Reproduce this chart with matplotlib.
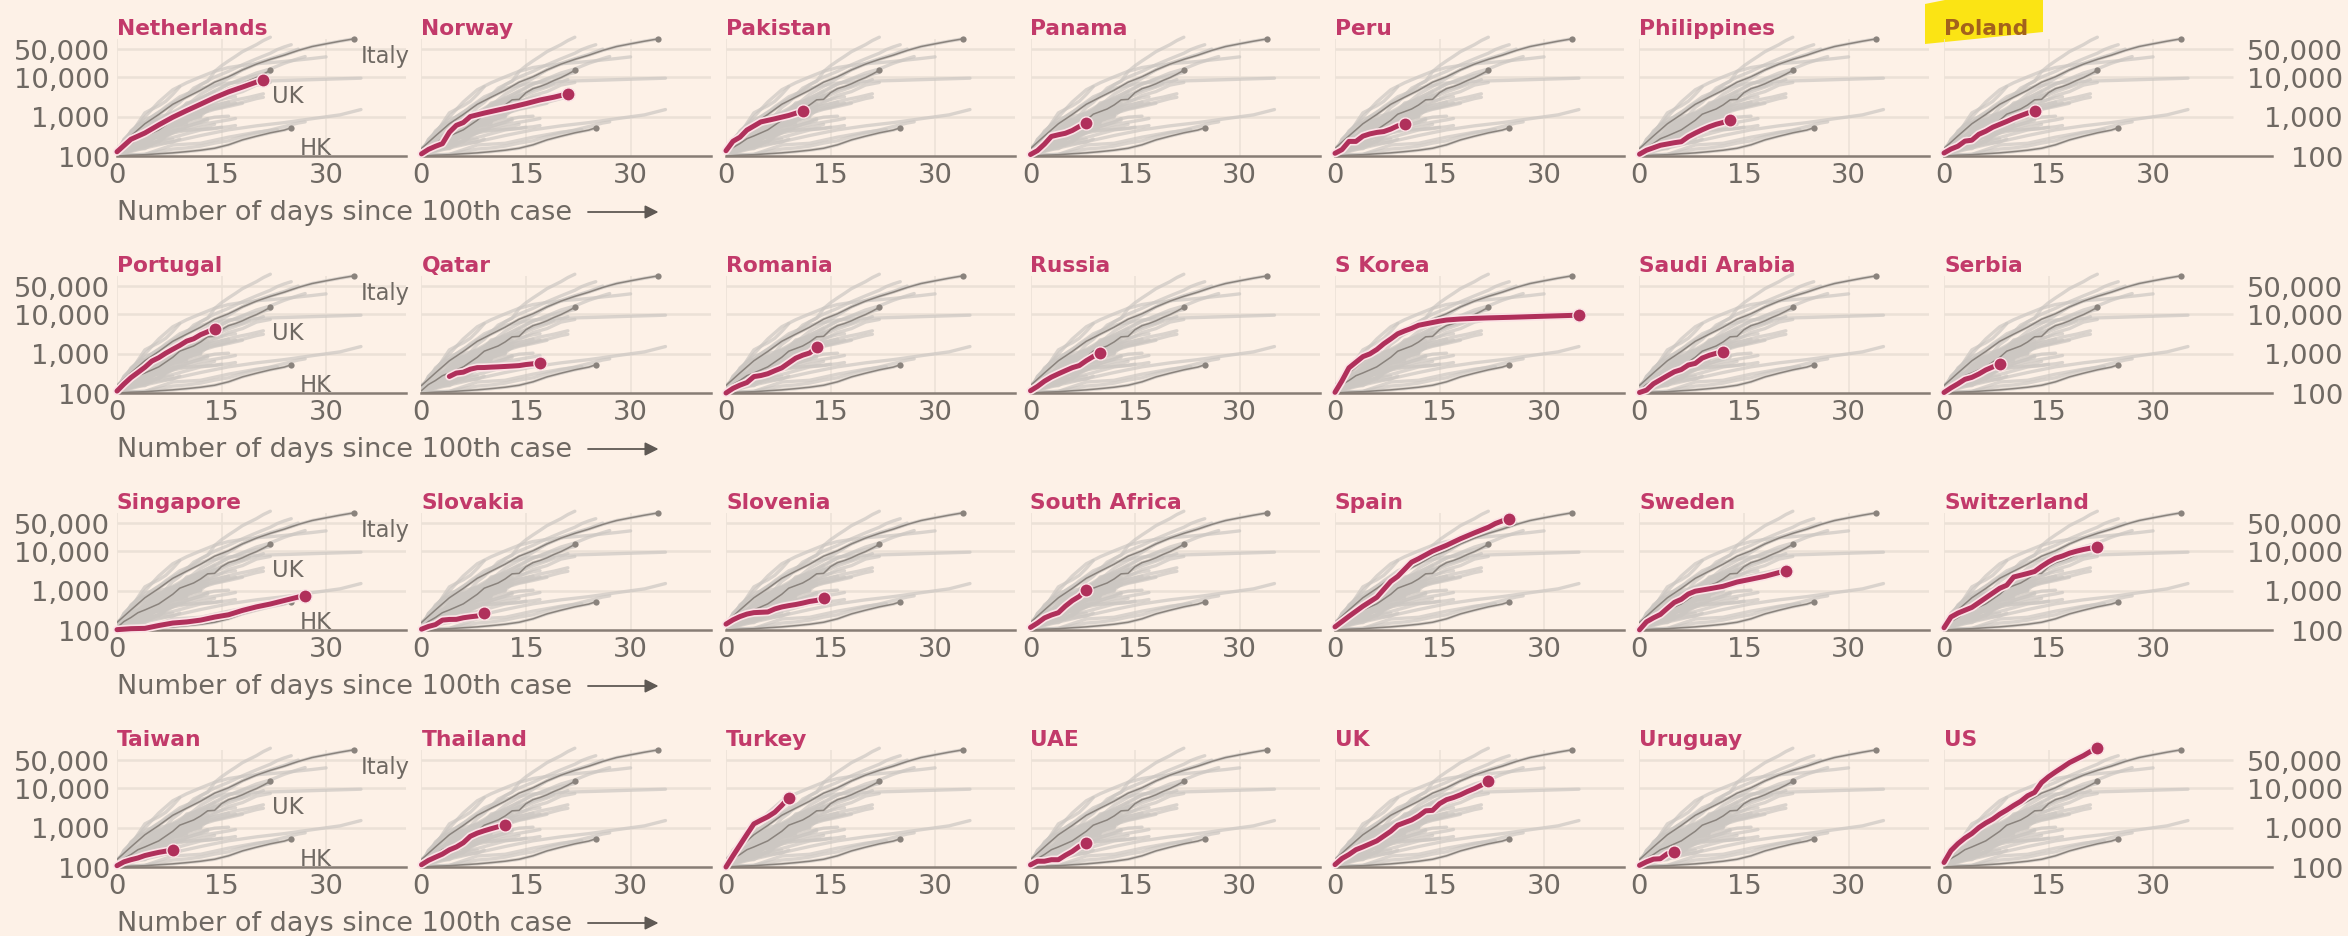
"""Small multiples: confirmed cases by days since the 100th case, log scale."""

import matplotlib.pyplot as plt
import matplotlib.patheffects as pe
from matplotlib.patches import Polygon

# ---------------------------------------------------------------- data
PANELS = [
    "Netherlands", "Norway", "Pakistan", "Panama", "Peru", "Philippines", "Poland",
    "Portugal", "Qatar", "Romania", "Russia", "S Korea", "Saudi Arabia", "Serbia",
    "Singapore", "Slovakia", "Slovenia", "South Africa", "Spain", "Sweden", "Switzerland",
    "Taiwan", "Thailand", "Turkey", "UAE", "UK", "Uruguay", "US",
]

# (days since 100th case, cumulative cases) for each highlighted country
PANEL_CASES = {
    "Netherlands": ([0, 2, 4, 6, 8, 10, 12, 14, 16, 18, 20, 21],
                    [128, 265, 382, 614, 959, 1413, 2051, 2994, 4204, 5560, 7431, 8603]),
    "Norway": ([0, 1, 2, 3, 4, 5, 6, 7, 9, 11, 13, 15, 17, 19, 21],
               [113, 147, 176, 205, 400, 598, 702, 996, 1221, 1463, 1746, 2118, 2621, 3084, 3755]),
    "Pakistan": ([0, 1, 2, 3, 5, 7, 9, 11],
                 [136, 236, 299, 454, 730, 875, 1063, 1373]),
    "Panama": ([0, 1, 2, 3, 4, 5, 6, 7, 8],
               [109, 137, 200, 313, 345, 376, 443, 558, 674]),
    "Peru": ([0, 1, 2, 3, 4, 5, 6, 7, 8, 9, 10],
             [117, 145, 234, 234, 318, 363, 395, 416, 480, 580, 635]),
    "Philippines": ([0, 1, 3, 5, 6, 7, 8, 9, 10, 11, 12, 13],
                    [111, 140, 187, 217, 230, 307, 380, 462, 552, 636, 707, 803]),
    "Poland": ([0, 1, 2, 3, 4, 5, 6, 7, 8, 9, 10, 11, 12, 13],
               [119, 150, 177, 238, 251, 355, 425, 536, 634, 749, 901, 1051, 1221, 1389]),
    "Portugal": ([0, 1, 2, 3, 4, 5, 6, 7, 8, 9, 10, 11, 12, 13, 14],
                 [112, 169, 245, 331, 448, 642, 785, 1020, 1280, 1600, 2060, 2362, 2995, 3544, 4268]),
    "Qatar": ([4, 5, 6, 7, 8, 9, 10, 11, 12, 13, 14, 15, 16, 17],
              [262, 320, 337, 401, 439, 442, 452, 460, 470, 481, 494, 526, 549, 590]),
    "Romania": ([0, 1, 2, 3, 4, 5, 6, 7, 8, 9, 10, 11, 12, 13],
                [100, 131, 158, 184, 260, 277, 308, 367, 433, 576, 762, 906, 1029, 1452]),
    "Russia": ([0, 1, 2, 3, 4, 5, 6, 7, 8, 9, 10],
               [114, 147, 199, 253, 306, 367, 438, 495, 658, 840, 1036]),
    "S Korea": ([0, 1, 2, 3, 4, 5, 6, 7, 8, 9, 10, 11, 12, 13, 14, 15, 16, 18, 20, 22, 25, 28, 31, 35],
                [104, 204, 433, 602, 833, 977, 1261, 1766, 2337, 3150, 3736, 4335, 5186, 5621,
                 6088, 6593, 7041, 7478, 7755, 7979, 8236, 8565, 8897, 9332]),
    "Saudi Arabia": ([0, 1, 2, 4, 5, 6, 7, 8, 9, 10, 11, 12],
                     [103, 118, 171, 274, 344, 392, 511, 562, 767, 900, 1012, 1104]),
    "Serbia": ([0, 1, 2, 3, 4, 5, 6, 7, 8],
               [103, 135, 171, 222, 249, 303, 384, 457, 528]),
    "Singapore": ([0, 2, 4, 6, 8, 10, 12, 14, 16, 18, 20, 22, 24, 26, 27],
                  [102, 108, 110, 130, 150, 160, 178, 212, 243, 313, 385, 455, 558, 683, 732]),
    "Slovakia": ([0, 1, 2, 3, 4, 5, 6, 7, 8, 9],
                 [105, 123, 137, 178, 185, 186, 204, 216, 226, 269]),
    "Slovenia": ([0, 1, 2, 3, 4, 6, 7, 8, 9, 10, 11, 12, 13, 14],
                 [141, 181, 219, 253, 275, 286, 341, 383, 414, 442, 480, 528, 562, 632]),
    "South Africa": ([0, 1, 2, 3, 4, 5, 6, 7, 8],
                     [116, 150, 202, 240, 274, 402, 554, 709, 1050]),
    "Spain": ([0, 2, 4, 6, 8, 9, 11, 12, 14, 16, 18, 20, 22, 23, 24, 25],
              [120, 222, 400, 673, 1695, 2277, 5232, 6391, 9942, 13910, 20410, 28768,
               39885, 49515, 57786, 65719]),
    "Sweden": ([0, 1, 2, 3, 4, 5, 6, 7, 8, 10, 12, 14, 16, 18, 20, 21],
               [101, 161, 203, 248, 355, 500, 599, 814, 961, 1103, 1279, 1639, 1934, 2286, 2840, 3069]),
    "Switzerland": ([0, 1, 2, 4, 6, 8, 9, 10, 12, 13, 14, 15, 16, 17, 18, 19, 20, 21, 22],
                    [114, 214, 268, 374, 652, 1139, 1359, 2200, 2700, 3028, 4075, 5294, 6575,
                     7474, 8795, 9877, 10897, 11811, 12928]),
    "Taiwan": ([0, 1, 2, 3, 4, 5, 6, 7, 8],
               [108, 135, 153, 169, 195, 215, 235, 252, 267]),
    "Thailand": ([0, 1, 2, 3, 4, 5, 6, 7, 8, 9, 10, 11, 12],
                 [114, 147, 177, 212, 272, 322, 411, 599, 721, 827, 934, 1045, 1136]),
    "Turkey": ([0, 1, 2, 3, 4, 5, 6, 7, 8, 9],
               [100, 192, 359, 670, 1236, 1529, 1872, 2433, 3629, 5698]),
    "UAE": ([0, 1, 2, 3, 4, 5, 6, 7, 8],
            [113, 140, 140, 153, 153, 198, 248, 333, 405]),
    "UK": ([0, 1, 2, 3, 4, 5, 6, 8, 9, 11, 12, 13, 14, 15, 16, 17, 18, 19, 20, 21, 22],
           [115, 164, 207, 274, 322, 384, 459, 802, 1144, 1551, 1960, 2642, 2716, 4014,
            5067, 5745, 6726, 8164, 9640, 11812, 14745]),
    "Uruguay": ([0, 1, 2, 3, 4, 5],
                [110, 135, 158, 162, 217, 238]),
    "US": ([0, 1, 2, 3, 4, 5, 6, 7, 8, 9, 10, 11, 12, 13, 14, 15, 16, 17, 18, 19, 20, 21, 22],
           [130, 260, 390, 541, 704, 994, 1301, 1630, 2183, 2770, 3613, 4596, 6344, 7754,
            13736, 19271, 25552, 33286, 43847, 53740, 65778, 83836, 101657]),
}

# reference countries drawn darker, with an end dot, in every panel
REFERENCE_CASES = {
    "Italy": ([0, 2, 4, 6, 8, 10, 12, 14, 16, 18, 20, 22, 24, 26, 28, 30, 32, 34],
              [155, 322, 655, 1128, 2036, 3089, 4636, 7375, 10149, 15113, 21157, 27980,
               35713, 47021, 59138, 69176, 80589, 92472]),
    "UK": PANEL_CASES["UK"],
    "HK": ([0, 2, 4, 6, 8, 10, 12, 14, 16, 18, 20, 22, 24, 25],
           [100, 105, 108, 114, 120, 129, 140, 157, 192, 256, 317, 386, 453, 518]),
}

# other countries that only appear in the grey bundle
OTHER_CASES = {
    "Germany": ([0, 2, 4, 6, 8, 10, 12, 14, 16, 18, 20, 22, 24, 26],
                [130, 196, 482, 799, 1176, 1908, 3675, 5795, 9257, 15320, 22213, 29056, 37323, 50871]),
    "France": ([0, 2, 4, 6, 8, 10, 12, 14, 16, 18, 20, 22, 24, 26, 27],
               [100, 191, 285, 653, 1126, 1784, 2876, 4480, 6633, 9052, 12612, 16018, 22302, 29155, 32964]),
    "Iran": ([0, 2, 4, 6, 8, 10, 12, 14, 16, 18, 20, 22, 24, 26, 28, 30],
             [139, 388, 978, 2336, 4747, 7161, 10075, 13938, 17361, 19644, 21638, 23049,
              24811, 27017, 29406, 32332]),
    "Belgium": ([0, 2, 4, 6, 8, 10, 12, 14, 16, 18, 20, 22],
                [109, 200, 239, 314, 689, 1058, 1486, 2257, 3401, 4269, 6235, 7284]),
    "Austria": ([0, 2, 4, 6, 8, 10, 12, 14, 16, 18, 19],
                [104, 182, 302, 655, 1016, 1646, 2388, 3244, 4876, 5888, 7029]),
    "Japan": ([0, 4, 8, 12, 16, 20, 24, 28, 32, 35],
              [105, 160, 230, 330, 460, 580, 700, 880, 1100, 1500]),
    "Malaysia": ([0, 3, 5, 6, 7, 8, 9, 10, 12, 14, 16, 18],
                 [117, 200, 238, 428, 566, 673, 790, 900, 1183, 1518, 1796, 2161]),
    "Australia": ([0, 2, 4, 6, 8, 10, 12, 14, 16, 17],
                  [112, 156, 250, 377, 565, 1071, 1709, 2423, 2985, 3166]),
    "Canada": ([0, 2, 4, 6, 8, 10, 12, 14, 16],
               [108, 200, 300, 600, 900, 1400, 2100, 3400, 4757]),
    "Brazil": ([0, 2, 4, 6, 8, 10, 12, 14],
               [151, 200, 291, 621, 1021, 1891, 2433, 3417]),
    "Denmark": ([0, 1, 3, 5, 7, 9, 11, 13, 15, 17],
                [100, 264, 617, 801, 898, 1057, 1255, 1460, 1718, 2200]),
    "Israel": ([0, 2, 4, 6, 8, 10, 12, 13],
               [126, 200, 337, 529, 883, 1442, 2369, 3035]),
    "Czechia": ([0, 2, 4, 6, 8, 10, 12, 14, 16],
                [116, 150, 300, 380, 700, 1100, 1500, 1900, 2300]),
    "Ireland": ([0, 2, 4, 6, 8, 10, 12, 13],
                [129, 223, 366, 683, 906, 1329, 1819, 2121]),
    "India": ([0, 2, 4, 6, 8, 10, 12, 13],
              [107, 137, 173, 249, 415, 562, 729, 887]),
    "Indonesia": ([0, 2, 4, 6, 8, 10, 12],
                  [117, 172, 309, 450, 579, 790, 1046]),
    "Bahrain": ([0, 4, 8, 12, 16, 20, 23],
                [100, 110, 190, 210, 300, 400, 466]),
    "Chile": ([0, 2, 4, 6, 8, 10, 11],
              [155, 250, 342, 537, 746, 1142, 1306]),
    "Greece": ([0, 4, 8, 12, 16, 17],
               [100, 228, 418, 624, 821, 892]),
    "Luxembourg": ([0, 2, 4, 6, 8, 10, 12],
                   [140, 200, 335, 670, 875, 1333, 1605]),
    "Ecuador": ([0, 2, 4, 6, 8, 10],
                [111, 260, 532, 981, 1211, 1627]),
    "Finland": ([0, 2, 4, 6, 8, 10, 12],
                [155, 225, 319, 450, 626, 792, 958]),
    "Egypt": ([0, 4, 8, 12, 15],
              [110, 196, 294, 456, 536]),
    "Mexico": ([0, 2, 4, 6, 8, 10],
               [118, 164, 251, 367, 585, 717]),
    "Iceland": ([0, 2, 4, 6, 8, 10, 12, 14, 16],
                [117, 199, 250, 409, 568, 648, 802, 963, 1020]),
}

X_TICKS = [0, 15, 30]
X_TICK_LABELS = ["0", "15", "30"]
Y_TICKS = [100, 1000, 10000, 50000]
Y_TICK_LABELS = ["100", "1,000", "10,000", "50,000"]
X_LABEL = "Number of days since 100th case"
HIGHLIGHTED_TITLE = "Poland"

# ---------------------------------------------------------------- style
BG = "#fdf1e7"
CLARET = "#b0305b"
TITLE_COLOR = "#c23a6a"
HALO = "#fbe3e6"
LIGHT_GREY = "#ccc7c2"
DARK_GREY = "#8a837d"
TEXT_GREY = "#6f6963"
GRID = "#ebe1d7"
AXIS_LINE = "#877d75"

W, H = 2348, 937
DAY_PX = 6.97          # pixels per day
DECADE_PX = 39.5       # pixels per factor of ten
LOG_SPAN = 3.3         # decades shown above 100
X_MAX = 41.5
X_MAX_LAST = 47
COL_X0, COL_STEP = 117, 304.5
ROW_BASE0, ROW_STEP = 157, 237
PT = 0.72              # points per pixel at dpi 100

fig = plt.figure(figsize=(W / 100, H / 100), dpi=100)
fig.patch.set_facecolor(BG)

# yellow marker highlight behind "Poland"
mark = [(1925, 5), (1950, 0), (2043, 0), (2043, 33), (1925, 45)]
fig.add_artist(Polygon([(x / W, 1 - y / H) for x, y in mark], closed=True,
                       facecolor="#fbe414", edgecolor="none", transform=fig.transFigure, zorder=0))

height_px = LOG_SPAN * DECADE_PX
all_grey = {**OTHER_CASES, **{k: v for k, v in REFERENCE_CASES.items() if k != "UK"}, **PANEL_CASES}

for i, name in enumerate(PANELS):
    row, col = divmod(i, 7)
    x_max = X_MAX_LAST if col == 6 else X_MAX
    left = COL_X0 + COL_STEP * col
    base = ROW_BASE0 + ROW_STEP * row
    ax = fig.add_axes([left / W, 1 - base / H, x_max * DAY_PX / W, height_px / H])
    ax.set_facecolor("none")
    ax.set_yscale("log")
    ax.set_xlim(0, x_max)
    ax.set_ylim(100, 100 * 10 ** LOG_SPAN)

    for s in ["top", "left", "right"]:
        ax.spines[s].set_visible(False)
    ax.spines["bottom"].set_color(AXIS_LINE)
    ax.spines["bottom"].set_linewidth(1.8)
    ax.spines["bottom"].set_zorder(4)

    # grid
    ax.hlines(Y_TICKS[1:], 0, X_MAX, color=GRID, lw=1.8, zorder=0)
    ax.vlines(X_TICKS, 100, 90000, color=GRID, lw=1.1, zorder=0)

    # grey bundle
    for other, (d, v) in all_grey.items():
        ax.plot(d, v, color=LIGHT_GREY, lw=2.4, alpha=0.7, zorder=1,
                solid_capstyle="round", solid_joinstyle="round")

    # reference countries
    for ref, (d, v) in REFERENCE_CASES.items():
        ax.plot(d, v, color=DARK_GREY, lw=1.1, zorder=2)
        ax.plot(d[-1], v[-1], "o", ms=4.5, color=DARK_GREY, mec="none", zorder=2)

    # highlighted country
    d, v = PANEL_CASES[name]
    ax.plot(d, v, color=CLARET, lw=3.6, zorder=5, clip_on=False,
            solid_capstyle="round", solid_joinstyle="round",
            path_effects=[pe.Stroke(linewidth=6.0, foreground=HALO), pe.Normal()])
    ax.plot(d[-1], v[-1], "o", ms=9.5, color=CLARET, mec=HALO, mew=1.0, zorder=6, clip_on=False)

    # ticks
    ax.set_xticks(X_TICKS, X_TICK_LABELS)
    ax.set_yticks(Y_TICKS, Y_TICK_LABELS)
    ax.minorticks_off()
    ax.tick_params(axis="both", length=0, labelsize=19.7, labelcolor=TEXT_GREY)
    ax.tick_params(axis="x", pad=4)
    if col == 0:
        ax.tick_params(axis="y", labelleft=True, pad=5)
    elif col == 6:
        ax.tick_params(axis="y", labelleft=False, labelright=True, pad=51.4)
        plt.setp(ax.get_yticklabels(), ha="right")
    else:
        ax.tick_params(axis="y", labelleft=False)

    # title
    is_marked = name == HIGHLIGHTED_TITLE
    ax.annotate(name, xy=(0, 1), xycoords="axes fraction", xytext=(0, -8.3 * PT),
                textcoords="offset points", ha="left", va="baseline", fontsize=15.7,
                fontweight="bold", color="#a3621c" if is_marked else TITLE_COLOR)

    if col == 0:
        ax.annotate(X_LABEL, xy=(0, 0), xycoords="axes fraction", xytext=(0, -63 * PT),
                    textcoords="offset points", ha="left", va="baseline",
                    fontsize=19.5, color=TEXT_GREY)
        y_arrow = -56 / height_px
        ax.annotate("", xy=((658.5 - left) / (x_max * DAY_PX), y_arrow),
                    xytext=((588 - left) / (x_max * DAY_PX), y_arrow),
                    xycoords="axes fraction",
                    arrowprops=dict(arrowstyle="-|>", color="#5f5954", lw=1.3,
                                    mutation_scale=20, shrinkA=0, shrinkB=0))
        # labels for the reference countries
        offsets = {"Italy": (7, -5), "UK": (2, -14), "HK": (8, -8)}
        for ref, (dx, dy) in offsets.items():
            rd, rv = REFERENCE_CASES[ref]
            ax.annotate(ref, xy=(rd[-1], rv[-1]), xytext=(dx * PT, dy * PT),
                        textcoords="offset points", ha="left", va="top",
                        fontsize=16.3, color=TEXT_GREY, zorder=3)

fig.savefig("out.png", dpi=100, facecolor=BG)
